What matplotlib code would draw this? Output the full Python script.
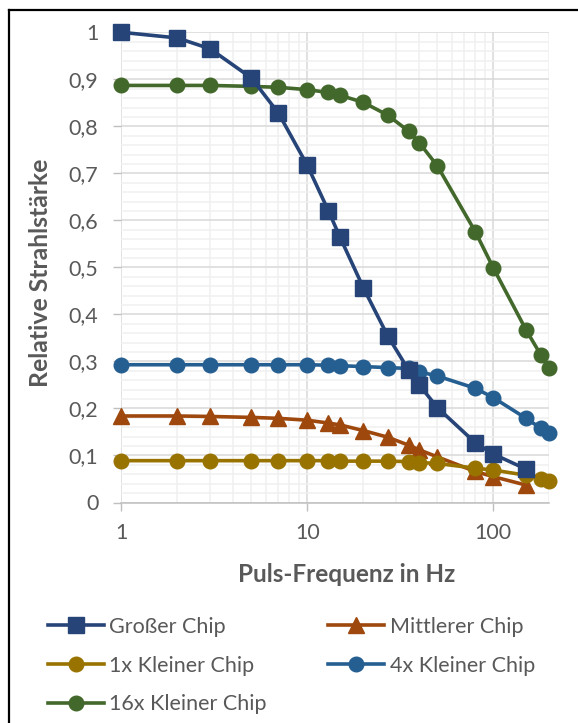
import matplotlib
matplotlib.use("Agg")
import matplotlib.pyplot as plt
from matplotlib.lines import Line2D
from matplotlib.ticker import FixedLocator, LogLocator, NullFormatter, FuncFormatter

plt.rcParams['font.family'] = ['Lato', 'DejaVu Sans']

# ---------------- data ----------------
x_gross = [1, 2, 3, 5, 7, 10, 13, 15, 20, 27, 35, 40, 50, 80, 100, 150]
y_gross = [1.0, 0.988, 0.965, 0.903, 0.828, 0.717, 0.620, 0.564, 0.457, 0.355,
           0.282, 0.250, 0.202, 0.127, 0.103, 0.071]

x_mittel = [1, 2, 3, 5, 7, 10, 13, 15, 20, 27, 35, 40, 50, 80, 100, 150]
y_mittel = [0.184, 0.184, 0.183, 0.181, 0.179, 0.175, 0.169, 0.165, 0.153, 0.139,
            0.122, 0.112, 0.097, 0.066, 0.055, 0.037]

x_klein1 = [1, 2, 3, 5, 7, 10, 13, 15, 20, 27, 35, 40, 50, 80, 100, 150, 180, 200]
y_klein1 = [0.089, 0.089, 0.089, 0.089, 0.089, 0.089, 0.089, 0.088, 0.088, 0.088,
            0.087, 0.085, 0.083, 0.073, 0.069, 0.058, 0.049, 0.046]

x_klein4 = [1, 2, 3, 5, 7, 10, 13, 15, 20, 27, 35, 40, 50, 80, 100, 150, 180, 200]
y_klein4 = [0.293, 0.293, 0.293, 0.293, 0.293, 0.293, 0.292, 0.291, 0.289, 0.287,
            0.285, 0.278, 0.269, 0.243, 0.223, 0.179, 0.158, 0.147]

x_klein16 = [1, 2, 3, 5, 7, 10, 13, 15, 20, 27, 35, 40, 50, 80, 100, 150, 180, 200]
y_klein16 = [0.887, 0.887, 0.887, 0.885, 0.883, 0.878, 0.872, 0.866, 0.851, 0.824,
             0.790, 0.765, 0.716, 0.576, 0.499, 0.367, 0.314, 0.287]

labels = ["Großer Chip", "Mittlerer Chip", "1x Kleiner Chip", "4x Kleiner Chip",
          "16x Kleiner Chip"]
colors = ["#264478", "#9E480E", "#997300", "#255E91", "#43682B"]
markers = ["s", "^", "o", "o", "o"]
msizes = [11, 11, 10.5, 10.5, 10.5]

x_ticks = [1, 10, 100]
y_ticks = [0, 0.1, 0.2, 0.3, 0.4, 0.5, 0.6, 0.7, 0.8, 0.9, 1.0]

# ---------------- figure ----------------
W, H = 578, 723
fig = plt.figure(figsize=(W / 100, H / 100), dpi=100)
fig.patch.set_facecolor("white")

left, right = 121.3 / W, 549.3 / W
top, bottom = 1 - 32.3 / H, 1 - 502.5 / H
ax = fig.add_axes([left, bottom, right - left, top - bottom])

ax.set_xscale("log")
ax.set_xlim(1, 200)
ax.set_ylim(0, 1)

text_col = "#595959"

# grids
ax.xaxis.set_major_locator(FixedLocator(x_ticks))
ax.xaxis.set_minor_locator(LogLocator(base=10, subs=range(2, 10)))
ax.xaxis.set_minor_formatter(NullFormatter())
ax.xaxis.set_major_formatter(FuncFormatter(lambda v, p: f"{v:g}"))
ax.yaxis.set_major_locator(FixedLocator(y_ticks))
ax.yaxis.set_minor_locator(FixedLocator([i * 0.02 for i in range(51)]))
ax.yaxis.set_major_formatter(FuncFormatter(lambda v, p: f"{v:g}".replace(".", ",")))

ax.grid(which="minor", color="#f0f0f0", linewidth=1.1, zorder=0)
ax.grid(which="major", color="#d9d9d9", linewidth=1.1, zorder=0)
ax.set_axisbelow(True)

for s in ["top", "right", "left"]:
    ax.spines[s].set_visible(False)
ax.spines["bottom"].set_color("#bfbfbf")
ax.spines["bottom"].set_linewidth(1.1)

ax.tick_params(axis="both", which="major", labelsize=15.5, colors=text_col,
               length=5.5, width=1.0)
ax.tick_params(axis="x", which="major", color="#bfbfbf", pad=9)
ax.tick_params(axis="y", which="major", color="#bfbfbf", pad=11)
ax.tick_params(which="minor", length=0)

series = [(x_gross, y_gross), (x_mittel, y_mittel), (x_klein1, y_klein1),
          (x_klein4, y_klein4), (x_klein16, y_klein16)]
handles = []
for (xs, ys), lab, c, m, ms in zip(series, labels, colors, markers, msizes):
    h, = ax.plot(xs, ys, color=c, marker=m, markersize=ms, linewidth=2.6,
                 label=lab, clip_on=False, zorder=3)
    handles.append(h)

handles[0].set_zorder(4)

# axis titles
fig.text(41 / W, 1 - 273 / H, "Relative Strahlstärke", rotation=90,
         ha="center", va="center", fontsize=17.8, fontweight="bold", color=text_col)
fig.text(347 / W, 1 - 574 / H, "Puls-Frequenz in Hz",
         ha="center", va="center", fontsize=17.5, fontweight="bold", color=text_col)

# legend
order = [0, 2, 4, 1, 3]
leg = fig.legend([handles[i] for i in order], [labels[i] for i in order],
                 ncol=2, loc="upper left", bbox_to_anchor=(48 / W, 1 - 617 / H),
                 frameon=False, fontsize=15.5, handlelength=2.6, handletextpad=0.25,
                 columnspacing=2.85, labelspacing=0.87, borderaxespad=0, borderpad=0)
for t in leg.get_texts():
    t.set_color(text_col)

# border lines (chart area frame)
fig.add_artist(Line2D([9 / W, 9 / W], [0, 1 - 10 / H], color="black", linewidth=1.6,
                      transform=fig.transFigure))
fig.add_artist(Line2D([9 / W, 1], [1 - 10 / H, 1 - 10 / H], color="black", linewidth=1.6,
                      transform=fig.transFigure))

fig.savefig("out.png", dpi=100, facecolor="white")
